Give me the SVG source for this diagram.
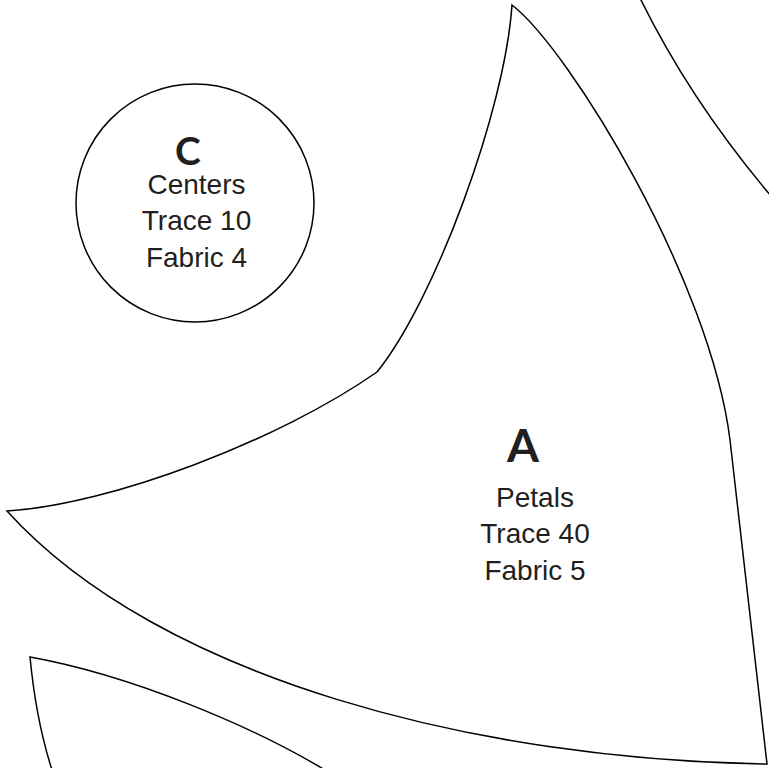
<svg xmlns="http://www.w3.org/2000/svg" width="769" height="768" viewBox="0 0 769 768">
<style>
.shape{fill:none;stroke:#000;stroke-width:1.5;stroke-linejoin:miter}
.big{font-family:Lato,"Liberation Sans",sans-serif;font-weight:bold;fill:#231f20;text-anchor:middle}
.lbl{font-family:"Liberation Sans",Arial,sans-serif;font-size:28px;fill:#231f20;text-anchor:middle}
</style>
<rect width="769" height="768" fill="#fff"/>
<g id="connectors"/>
<g id="node-A">
<path class="shape" d="M512,5 C570,50 710,280 730,440 L767,764 C480,760 160,680 7,511 C110,505 280,440 377,372 C435,300 505,110 512,5 Z"/>
<text class="big" x="523" y="462" font-size="46">A</text>
<text class="lbl" x="535" y="507">Petals</text>
<text class="lbl" x="535" y="543">Trace 40</text>
<text class="lbl" x="535" y="580">Fabric 5</text>
</g>
<g id="node-C">
<circle class="shape" cx="195" cy="203" r="119"/>
<text class="big" x="188" y="165" font-size="39">C</text>
<text class="lbl" x="196.5" y="194">Centers</text>
<text class="lbl" x="196.5" y="230">Trace 10</text>
<text class="lbl" x="196.5" y="267">Fabric 4</text>
</g>
<g id="petal-bottom-left">
<path class="shape" d="M52,770 Q36,720 30,657 C130,675 250,725 325,770"/>
</g>
<g id="petal-top-right">
<path class="shape" d="M640,-2 Q690,100 771,196"/>
</g>
</svg>
